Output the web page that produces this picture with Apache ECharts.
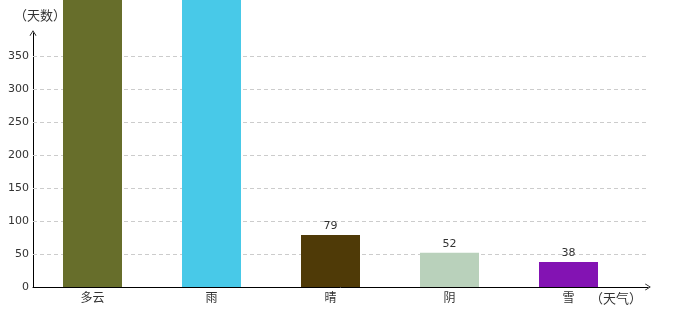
<!DOCTYPE html>
<html><head><meta charset="utf-8">
<script src="https://cdn.jsdelivr.net/npm/echarts@6/dist/echarts.min.js"></script>
<style>html,body{margin:0;padding:0;background:#fff}#c{width:680px;height:320px}</style>
</head><body><div id="c"></div>
<script>
const categories = ['多云', '雨', '晴', '阴', '雪'];
const values = [480, 470, 79, 52, 38];
const colors = ['#676e2b', '#48c9e8', '#4f3a07', '#b9d1bb', '#8313b3'];
const yTicks = [50, 100, 150, 200, 250, 300, 350];
const showLabel = [false, false, true, true, true];

const chart = echarts.init(document.getElementById('c'), null, {renderer: 'canvas'});
const font = 'DejaVu Sans, Verdana, sans-serif';
const cjk = '"Noto Sans CJK SC", sans-serif';
const chevron = 'path://M0,0 L5,8 L3.8,8 L0,1.8 L-3.8,8 L-5,8 Z';
chart.setOption({
  animation: false,
  grid: {left: 33, right: 32, top: 33, bottom: 33, containLabel: false},
  xAxis: {
    type: 'value', min: -0.5, max: 4.668,
    name: '（天气）', nameLocation: 'end', nameGap: 0,
    nameTextStyle: {align: 'right', verticalAlign: 'top', padding: [5, 6, 0, 0], color: '#333', fontSize: 13, fontFamily: cjk},
    axisLine: {show: true, onZero: false, symbol: ['none', chevron], symbolSize: [7, 9], lineStyle: {color: '#000', width: 1}},
    axisTick: {show: false},
    splitLine: {show: false},
    axisLabel: {customValues: [0, 1, 2, 3, 4], formatter: v => categories[Math.round(v)], color: '#333', fontSize: 12, fontFamily: cjk, margin: 4}
  },
  yAxis: {
    type: 'value', min: 0, max: 385, interval: 50,
    name: '（天数）', nameLocation: 'end', nameGap: 11,
    nameTextStyle: {align: 'center', padding: [0, 0, 0, 14], color: '#333', fontSize: 13, fontFamily: cjk},
    axisLine: {show: true, onZero: false, symbol: ['none', chevron], symbolSize: [7, 9], lineStyle: {color: '#000', width: 1}},
    axisTick: {show: false},
    splitLine: {show: false},
    axisLabel: {showMaxLabel: false, color: '#333', fontSize: 11, fontFamily: font, margin: 4}
  },
  series: [{
    type: 'bar', barWidth: 59, clip: false, z: 3,
    data: values.map((v, i) => ({value: [i, v], itemStyle: {color: colors[i]}, label: {show: showLabel[i]}})),
    label: {position: 'top', distance: 3, color: '#333', fontSize: 11, fontFamily: font, formatter: p => p.value[1]}
  }, {
    type: 'line', data: [], z: 1,
    markLine: {
      silent: true, symbol: 'none', label: {show: false}, z: 1,
      lineStyle: {color: '#ccc', type: [4, 3], width: 1},
      data: yTicks.map(t => ({yAxis: t}))
    }
  }]
});
</script></body></html>
